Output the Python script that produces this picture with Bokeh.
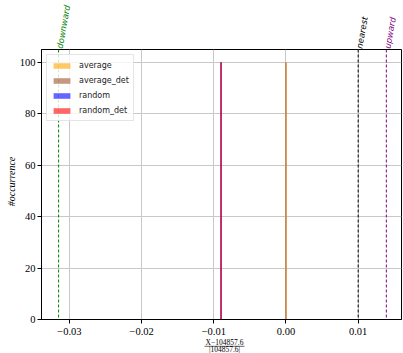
from bokeh.plotting import figure
from bokeh.layouts import column, row
from bokeh.models import (Range1d, FixedTicker, Span, Legend, LegendItem, ColumnDataSource)
from bokeh.core.properties import value
from bokeh.embed import file_html
from bokeh.resources import INLINE

# ---- data ----
series_names = ["average", "average_det", "random", "random_det"]
series_pos = [0.0, 0.0, -0.009, -0.009]
series_counts = [100, 100, 100, 100]
series_colors = ["#ffa500", "#a0522d", "#0000ff", "#ff0000"]

ref_names = ["downward", "nearest", "upward"]
ref_values = [-0.0315, 0.0100, 0.0139]
ref_colors = ["green", "black", "purple"]

x_ticks = [-0.03, -0.02, -0.01, 0.00, 0.01]
x_tick_labels = ["\u22120.03", "\u22120.02", "\u22120.01", "0.00", "0.01"]
y_ticks = [0, 20, 40, 60, 80, 100]
y_tick_labels = ["0", "20", "40", "60", "80", "100"]

x_label_num = "X\u2212104857.6"
x_label_den = "|104857.6|"
y_label = "#occurrence"

# ---- layout constants ----
X0, X1 = -0.03387, 0.0160
Y0, Y1 = 0, 105
TOTAL_H = 353
LAB_W = 16            # y-label strip; main y-axis panel measures ~25px -> frame at 41
W = 403 - LAB_W
LEFT, RIGHT = 25, 2
TOP_H, MAIN_FRAME_H, MAIN_BOTTOM, BOT_H = 49, 270, 19, 15
BAR_WIDTHS = [0.0002, 0.0002, 0.00026, 0.00026]

xr = Range1d(X0, X1)

# --- y label strip ---
pl = figure(width=LAB_W, height=TOTAL_H, output_backend="svg", toolbar_location=None,
            x_range=Range1d(0, LAB_W), y_range=Range1d(0, TOTAL_H),
            x_axis_type=None, y_axis_type=None, min_border=0)
pl.outline_line_color = None
pl.grid.visible = False
pl.text(x=[10.5], y=[TOTAL_H - 181], text=[y_label], angle=90, angle_units="deg",
        text_align="center", text_baseline="middle", text_font=value("Liberation Serif"),
        text_font_style="italic", text_font_size="10px", text_color="black")

# --- top strip with the reference-line names ---
pt = figure(width=W, height=TOP_H, output_backend="svg", toolbar_location=None,
            x_range=xr, y_range=Range1d(0, TOP_H), x_axis_type=None, y_axis_type=None,
            min_border_left=LEFT, min_border_right=RIGHT, min_border_top=0, min_border_bottom=0)
pt.outline_line_color = None
pt.grid.visible = False
src_ref = ColumnDataSource(dict(x=ref_values, name=ref_names, color=ref_colors))
pt.text(x="x", y=1, text="name", angle=80, angle_units="deg", text_align="left",
        text_baseline="middle", text_color="color", text_font=value("DejaVu Sans"),
        text_font_style="italic", text_font_size="8.5px", x_offset=1, source=src_ref)

# --- main plot ---
p = figure(width=W, height=MAIN_FRAME_H + MAIN_BOTTOM, output_backend="svg", toolbar_location=None,
           x_range=xr, y_range=Range1d(Y0, Y1),
           min_border_left=LEFT, min_border_right=RIGHT, min_border_top=0,
           min_border_bottom=MAIN_BOTTOM)

renderers = []
for name, pos, cnt, col, bw in zip(series_names, series_pos, series_counts, series_colors, BAR_WIDTHS):
    r = p.vbar(x=[pos], top=[cnt], bottom=0, width=bw, fill_color=col, fill_alpha=0.6,
               line_color=None)
    renderers.append((name, r))

for val, col in zip(ref_values, ref_colors):
    p.add_layout(Span(location=val, dimension="height", line_color=col, line_width=1,
                      line_dash="3 2"))

legend = Legend(items=[LegendItem(label=n, renderers=[r]) for n, r in renderers],
                location="top_left", margin=5, padding=4, spacing=3,
                label_height=12, glyph_height=7, glyph_width=21, label_standoff=7,
                label_text_font="DejaVu Sans", label_text_font_size="8px",
                label_text_color="#222222",
                border_line_color="#cccccc", border_line_width=1,
                background_fill_alpha=0.8)
p.add_layout(legend)

for ax in (p.xaxis, p.yaxis):
    ax.axis_line_color = "black"
    ax.major_tick_line_color = "black"
    ax.major_tick_out = 4
    ax.major_tick_in = 0
    ax.minor_tick_line_color = None
    ax.major_label_text_font = "Liberation Serif"
    ax.major_label_text_font_size = "10.5px"
    ax.major_label_text_color = "black"

p.xaxis.ticker = FixedTicker(ticks=x_ticks)
p.xaxis.major_label_overrides = {t: l for t, l in zip(x_ticks, x_tick_labels)}
p.xaxis.major_label_standoff = 4
p.yaxis.ticker = FixedTicker(ticks=y_ticks)
p.yaxis.major_label_overrides = {t: l for t, l in zip(y_ticks, y_tick_labels)}
p.yaxis.major_label_standoff = 2

p.outline_line_color = "black"
p.outline_line_width = 1
p.xgrid.grid_line_color = "#c8c8c8"
p.ygrid.grid_line_color = "#c8c8c8"
p.xgrid.ticker = FixedTicker(ticks=x_ticks)
p.ygrid.ticker = FixedTicker(ticks=y_ticks)

# --- bottom strip with the fraction x-label ---
pb = figure(width=W, height=BOT_H, output_backend="svg", toolbar_location=None,
            x_range=xr, y_range=Range1d(0, BOT_H), x_axis_type=None, y_axis_type=None,
            min_border_left=LEFT, min_border_right=RIGHT, min_border_top=0, min_border_bottom=0)
pb.outline_line_color = None
pb.grid.visible = False
xc = (X0 + X1) / 2 + 3 * (X1 - X0) / 360
half = 20 * (X1 - X0) / 360
pb.text(x=[xc], y=[11], text=[x_label_num], text_align="center", text_baseline="middle",
        text_font=value("Liberation Serif"), text_font_size="7.5px", text_color="black")
pb.line(x=[xc - half, xc + half], y=[7.2, 7.2], line_color="black", line_width=0.6)
pb.text(x=[xc], y=[3.6], text=[x_label_den], text_align="center", text_baseline="middle",
        text_font=value("Liberation Serif"), text_font_size="7.5px", text_color="black")

layout = row(pl, column(pt, p, pb, spacing=0), spacing=0)
open("out.html", "w").write(file_html(layout, INLINE))
